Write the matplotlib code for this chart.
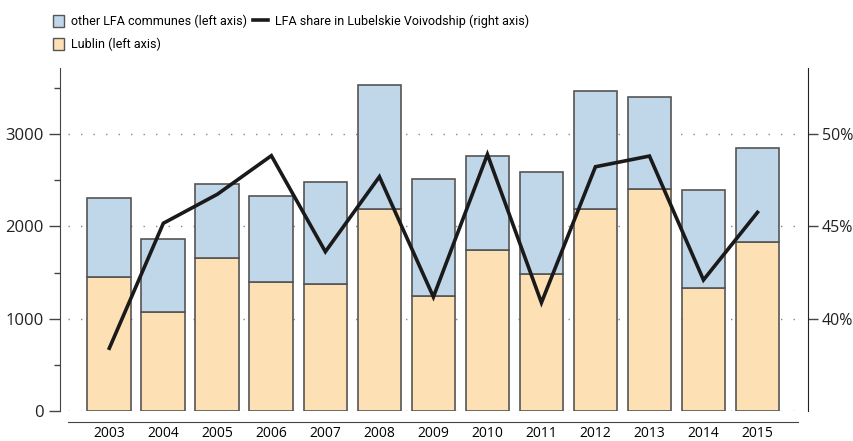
import numpy as np
import matplotlib.pyplot as plt
from matplotlib.ticker import FuncFormatter, MultipleLocator
from matplotlib.lines import Line2D
from matplotlib.patches import FancyBboxPatch

plt.rcParams['font.family'] = ['Open Sans', 'DejaVu Sans']

# data
years = ['2003', '2004', '2005', '2006', '2007', '2008', '2009',
         '2010', '2011', '2012', '2013', '2014', '2015']
lublin = [1448, 1072, 1657, 1401, 1372, 2191, 1246, 1744, 1487, 2188, 2404, 1329, 1830]
total = [2304, 1863, 2462, 2332, 2480, 3531, 2509, 2765, 2592, 3469, 3401, 2397, 2852]
other = [t - l for t, l in zip(total, lublin)]
lfa_share = [38.4, 45.17, 46.74, 48.83, 43.63, 47.69, 41.18,
             48.9, 40.87, 48.23, 48.81, 42.1, 45.76]

blue = '#c0d6e9'
orange = '#fde0b4'
edge = '#555555'

fig = plt.figure(figsize=(8.54, 4.41), dpi=100)
W, H = 854, 441
ax = fig.add_axes([68 / W, 30 / H, 730 / W, 343 / H])

x = np.arange(len(years))
ax.bar(x, lublin, width=0.81, color=orange, edgecolor=edge, linewidth=1.2, zorder=2)
ax.bar(x, other, bottom=lublin, width=0.81, color=blue, edgecolor=edge, linewidth=1.2, zorder=2)

ax.set_xlim(-0.765, 12.75)
ax.set_ylim(0, 3716)
ax.set_xticks(x)
ax.set_xticklabels(years, fontsize=12, color='#222222')
ax.tick_params(axis='x', length=0, pad=3)

ax.yaxis.set_major_locator(MultipleLocator(1000))
ax.yaxis.set_minor_locator(MultipleLocator(500))
ax.tick_params(axis='y', which='major', length=8, width=1, labelsize=12,
               labelcolor='#222222', color='#444444')
ax.tick_params(axis='y', which='minor', length=4, width=1, color='#444444')
ax.grid(axis='y', which='major', linestyle=(0, (1, 8)), color='#888888', linewidth=1, zorder=0)

for s in ['top', 'right']:
    ax.spines[s].set_visible(False)
ax.spines['left'].set_position(('outward', 6))
ax.spines['bottom'].set_position(('outward', 8))
ax.spines['left'].set_color('#444444')
ax.spines['bottom'].set_color('#444444')

ax2 = ax.twinx()
ax2.plot(x, lfa_share, color='#1a1a1a', linewidth=2.6, zorder=3, solid_joinstyle='miter')
ax2.set_ylim(35, 35 + 3716 / 1000 * 5)
ax2.set_yticks([40, 45, 50])
ax2.yaxis.set_major_formatter(FuncFormatter(lambda v, p: f'{v:.0f}%'))
ax2.tick_params(axis='y', length=7, width=1, labelsize=11.5, labelcolor='#222222',
                color='#444444', pad=3)
for s in ['top', 'left', 'bottom']:
    ax2.spines[s].set_visible(False)
ax2.spines['right'].set_position(('outward', 7))
ax2.spines['right'].set_color('#222222')

# legends: two blocks placed like the reference
leg_font = {'family': ['Roboto', 'Open Sans'], 'size': 9}
bar_handles = [
    FancyBboxPatch((0, 0), 1, 1, boxstyle='round,pad=0.15', facecolor=blue, edgecolor=edge),
    FancyBboxPatch((0, 0), 1, 1, boxstyle='round,pad=0.15', facecolor=orange, edgecolor=edge),
]
fig.legend(bar_handles, ['other LFA communes (left axis)', 'Lublin (left axis)'],
           frameon=False, loc='upper left', bbox_to_anchor=(44 / W, 0.986),
           prop=leg_font, handlelength=0.9, handleheight=1.1,
           handletextpad=0.6, labelspacing=0.75, borderaxespad=0.3)
fig.legend([Line2D([], [], color='#1a1a1a', linewidth=2.6)],
           ['LFA share in Lubelskie Voivodship (right axis)'],
           frameon=False, loc='upper left', bbox_to_anchor=(244 / W, 0.986),
           prop=leg_font, handlelength=1.2, handleheight=1.1,
           handletextpad=0.6, borderaxespad=0.3)

fig.savefig('out.png', dpi=100)
